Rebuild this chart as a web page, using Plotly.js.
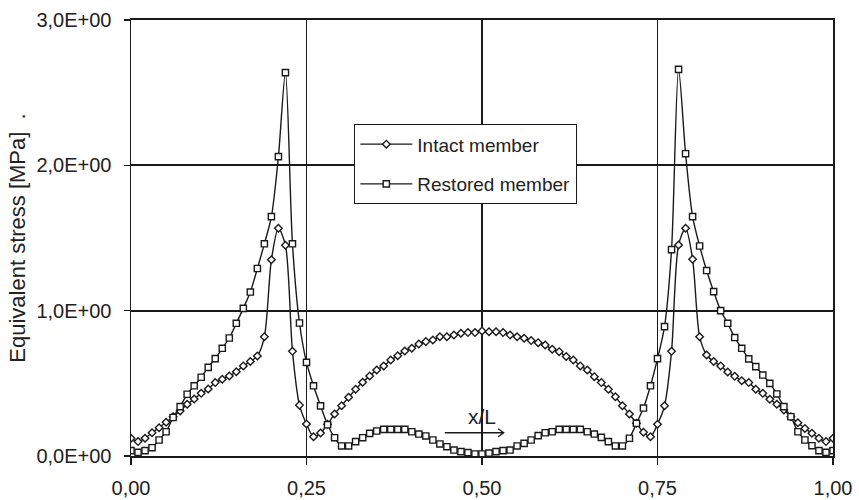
<!DOCTYPE html>
<html>
<head>
<meta charset="utf-8">
<script src="https://cdn.plot.ly/plotly-3.0.1.min.js"></script>
<style>html,body{margin:0;padding:0;background:#fff;}#chart{width:859px;height:500px;}</style>
</head>
<body>
<div id="chart"></div>
<script>
// Position along member x/L
var xPos = [0.00,0.01,0.02,0.03,0.04,0.05,0.06,0.07,0.08,0.09,
            0.10,0.11,0.12,0.13,0.14,0.15,0.16,0.17,0.18,0.19,
            0.20,0.21,0.22,0.23,0.24,0.25,0.26,0.27,0.28,0.29,
            0.30,0.31,0.32,0.33,0.34,0.35,0.36,0.37,0.38,0.39,
            0.40,0.41,0.42,0.43,0.44,0.45,0.46,0.47,0.48,0.49,
            0.50,0.51,0.52,0.53,0.54,0.55,0.56,0.57,0.58,0.59,
            0.60,0.61,0.62,0.63,0.64,0.65,0.66,0.67,0.68,0.69,
            0.70,0.71,0.72,0.73,0.74,0.75,0.76,0.77,0.78,0.79,
            0.80,0.81,0.82,0.83,0.84,0.85,0.86,0.87,0.88,0.89,
            0.90,0.91,0.92,0.93,0.94,0.95,0.96,0.97,0.98,0.99,1.00];

// Equivalent stress [MPa], intact member
var intact = [0.122,0.099,0.122,0.160,0.195,0.232,0.270,0.310,0.356,0.392,
              0.431,0.461,0.505,0.528,0.550,0.580,0.620,0.650,0.688,0.820,
              1.350,1.567,1.450,0.720,0.350,0.220,0.133,0.158,0.218,0.289,
              0.346,0.404,0.459,0.507,0.550,0.592,0.619,0.660,0.690,0.723,
              0.741,0.771,0.787,0.798,0.821,0.821,0.833,0.844,0.849,0.849,
              0.860,0.855,0.855,0.849,0.833,0.821,0.810,0.794,0.780,0.764,
              0.734,0.718,0.684,0.661,0.620,0.592,0.546,0.505,0.459,0.408,
              0.346,0.289,0.225,0.163,0.133,0.218,0.346,0.720,1.452,1.567,
              1.354,0.821,0.695,0.650,0.620,0.578,0.548,0.518,0.505,0.459,
              0.431,0.390,0.356,0.317,0.270,0.229,0.190,0.156,0.122,0.099,0.122];

// Equivalent stress [MPa], restored member
var restored = [0.037,0.025,0.037,0.057,0.110,0.167,0.265,0.340,0.425,0.483,
                0.542,0.610,0.670,0.741,0.812,0.913,1.016,1.128,1.290,1.460,
                1.647,2.060,2.638,1.460,0.915,0.644,0.483,0.345,0.215,0.126,
                0.069,0.069,0.099,0.126,0.156,0.172,0.183,0.183,0.183,0.183,
                0.167,0.151,0.138,0.110,0.083,0.064,0.041,0.030,0.023,0.014,
                0.014,0.020,0.030,0.037,0.041,0.069,0.087,0.110,0.140,0.160,
                0.167,0.183,0.183,0.183,0.183,0.167,0.151,0.128,0.099,0.069,
                0.069,0.122,0.225,0.330,0.483,0.670,0.890,1.420,2.660,2.080,
                1.647,1.445,1.276,1.131,1.000,0.913,0.815,0.741,0.668,0.615,
                0.557,0.500,0.427,0.340,0.270,0.167,0.110,0.071,0.037,0.025,0.037];

var xTickVals = [0, 0.25, 0.5, 0.75, 1];
var xTickText = ['0,00', '0,25', '0,50', '0,75', '1,00'];
var yTickVals = [0, 1, 2, 3];
var yTickText = ['0,0E+00', '1,0E+00', '2,0E+00', '3,0E+00'];
var seriesNames = ['Intact member', 'Restored member'];

var ink = '#1a1a1a';
var FONT = 'Liberation Sans, Arial, Helvetica, sans-serif';

var traces = [
  {
    x: xPos, y: intact, name: seriesNames[0], type: 'scatter', mode: 'lines+markers',
    legendgroup: 'a',
    line: {color: ink, width: 1.4, shape: 'spline', smoothing: 0.8},
    marker: {symbol: 'diamond', size: 5.8, color: '#ffffff', line: {color: ink, width: 1.4}}
  },
  {
    x: xPos, y: restored, name: seriesNames[1], type: 'scatter', mode: 'lines+markers',
    legendgroup: 'b',
    line: {color: ink, width: 1.4, shape: 'spline', smoothing: 0.8},
    marker: {symbol: 'square', size: 6.2, color: '#ffffff', line: {color: ink, width: 1.4}}
  }
];

var layout = {
  width: 859, height: 500,
  margin: {l: 131, r: 26, t: 20, b: 44},
  paper_bgcolor: '#ffffff', plot_bgcolor: '#ffffff',
  font: {family: FONT, color: '#222222', size: 20},
  showlegend: true,
  legend: {
    x: 0.3177, y: 0.7615, xanchor: 'left', yanchor: 'top',
    bgcolor: '#ffffff', bordercolor: ink, borderwidth: 1.3,
    font: {family: FONT, size: 19, color: '#222222'},
    tracegroupgap: 12, itemwidth: 52
  },
  xaxis: {
    range: [0, 1], tickvals: xTickVals, ticktext: xTickText,
    showgrid: true, gridcolor: ink, gridwidth: 1.5,
    showline: true, mirror: true, linecolor: ink, linewidth: 1.8,
    zeroline: false, ticks: 'outside', ticklen: 7, tickcolor: ink, tickwidth: 1.4,
    tickfont: {family: FONT, size: 20, color: '#222222'},
    ticklabelstandoff: 6,
    fixedrange: true
  },
  yaxis: {
    range: [0, 3], tickvals: yTickVals, ticktext: yTickText,
    showgrid: true, gridcolor: ink, gridwidth: 1.7,
    showline: true, mirror: true, linecolor: ink, linewidth: 1.5,
    zeroline: false, ticks: 'outside', ticklen: 6, tickcolor: ink, tickwidth: 1.4,
    tickfont: {family: FONT, size: 20, color: '#222222'},
    ticklabelstandoff: 8,
    title: {text: 'Equivalent stress [MPa]  .', font: {family: FONT, size: 22, color: '#222222'}, standoff: 4},
    fixedrange: true
  },
  annotations: [
    {x: 0.5, y: 0.275, xref: 'x', yref: 'y', text: 'x/L', showarrow: false,
     font: {family: FONT, size: 21, color: '#222222'}, xanchor: 'center', yanchor: 'middle'}
  ],
  shapes: [
    {type: 'path', xref: 'x', yref: 'y',
     path: 'M0.447,0.16 L0.531,0.16 M0.523,0.188 L0.531,0.16 L0.523,0.132',
     line: {color: ink, width: 1.3}}
  ]
};

Plotly.newPlot('chart', traces, layout, {displayModeBar: false, staticPlot: true});
</script>
</body>
</html>
